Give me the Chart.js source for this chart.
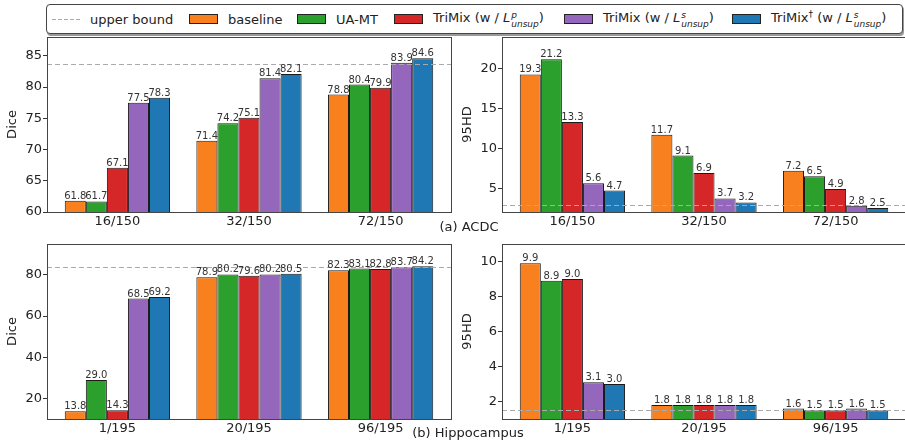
<!DOCTYPE html>
<html>
<head>
<meta charset="utf-8">
<script src="https://cdn.jsdelivr.net/npm/chart.js@4.4.0/dist/chart.umd.min.js"></script>
<style>
html, body { margin:0; padding:0; background:#fff; }
body { width:905px; height:441px; overflow:hidden; position:relative; font-family:"DejaVu Sans", sans-serif; color:#222; }
canvas { position:absolute; }
#legend { position:absolute; left:46px; top:4px; width:857px; height:30px; border:1px solid #444; border-radius:4px; box-shadow:1px 2px 0 #999; box-sizing:border-box; background:#fff; }
.item { position:absolute; top:0; height:28px; display:flex; align-items:center; font-size:13px; white-space:nowrap; }
.patch { width:29px; height:10px; border:1px solid #222; box-sizing:border-box; margin-right:10px; }
.dash { width:28px; height:1px; margin-right:10px; background:repeating-linear-gradient(90deg, #aaa 0 4px, transparent 4px 6px); }
.cap { position:absolute; font-size:13px; transform:translateX(-50%); white-space:nowrap; }
.ss { display:inline-flex; flex-direction:column; vertical-align:4px; font-size:9px; line-height:9px; font-style:italic; margin-left:1px; }
</style>
</head>
<body>
<div id="legend"></div>
<canvas id="c1"></canvas>
<canvas id="c2"></canvas>
<canvas id="c3"></canvas>
<canvas id="c4"></canvas>
<div class="cap" style="left:469px; top:219px;">(a) ACDC</div>
<div class="cap" style="left:468px; top:425px;">(b) Hippocampus</div>
<script>
// methods (legend order) and bar colours
const methods = ['baseline', 'UA-MT',
    'TriMix (w / <i>L</i><span class="ss"><span>p</span><span>unsup</span></span>)',
    'TriMix (w / <i>L</i><span class="ss"><span>s</span><span>unsup</span></span>)',
    'TriMix<sup style="font-size:9px">†</sup> (w / <i>L</i><span class="ss"><span>s</span><span>unsup</span></span>)'];
const colours = ['#f8801f', '#2ca02c', '#d62728', '#9467bd', '#1f77b4'];

const acdcCats = ['16/150', '32/150', '72/150'];
const hippoCats = ['1/195', '20/195', '96/195'];

// one row per method, one value per labelled split
const acdcDice = [
    [61.8, 71.4, 78.8],
    [61.7, 74.2, 80.4],
    [67.1, 75.1, 79.9],
    [77.5, 81.4, 83.9],
    [78.3, 82.1, 84.6]
];
const acdcHD = [
    [19.3, 11.7, 7.2],
    [21.2, 9.1, 6.5],
    [13.3, 6.9, 4.9],
    [5.6, 3.7, 2.8],
    [4.7, 3.2, 2.5]
];
const hippoDice = [
    [13.8, 78.9, 82.3],
    [29.0, 80.2, 83.1],
    [14.3, 79.6, 82.8],
    [68.5, 80.2, 83.7],
    [69.2, 80.5, 84.2]
];
const hippoHD = [
    [9.9, 1.8, 1.6],
    [8.9, 1.8, 1.5],
    [9.0, 1.8, 1.5],
    [3.1, 1.8, 1.6],
    [3.0, 1.8, 1.5]
];

// fully supervised upper bounds (dashed line)
const upperDice = [83.7, 83.7];   // ACDC, Hippocampus
const upperHD = [2.85, 1.5];

const acdcDiceTicks = [60, 65, 70, 75, 80, 85];
const acdcHDTicks = [5, 10, 15, 20];
const hippoDiceTicks = [20, 40, 60, 80];
const hippoHDTicks = [2, 4, 6, 8, 10];

// legend (html so the sub/superscripts stay text)
const legendX = [5, 142, 250, 347, 517, 685];
let lg = '<div class="item" style="left:' + legendX[0] + 'px"><div class="dash"></div>upper bound</div>';
methods.forEach((m, i) => {
    lg += '<div class="item" style="left:' + legendX[i + 1] + 'px"><div class="patch" style="background:' + colours[i] + '"></div><span>' + m + '</span></div>';
});
document.getElementById('legend').innerHTML = lg;

Chart.defaults.font.family = '"DejaVu Sans", sans-serif';
Chart.defaults.font.size = 13;
Chart.defaults.color = '#222';

const decor = {
    id: 'decor',
    afterDatasetsDraw(chart, args, opts) {
        const ctx = chart.ctx;
        const a = chart.chartArea;
        const y = Math.round(chart.scales.y.getPixelForValue(opts.upper)) + 0.5;
        ctx.save();
        // upper bound
        ctx.strokeStyle = '#aaa';
        ctx.lineWidth = 1.2;
        ctx.setLineDash([5, 3]);
        ctx.beginPath();
        ctx.moveTo(a.left, y);
        ctx.lineTo(a.right, y);
        ctx.stroke();
        ctx.setLineDash([]);
        // value labels
        ctx.font = '10px "DejaVu Sans"';
        ctx.fillStyle = '#333';
        ctx.textAlign = 'center';
        ctx.textBaseline = 'alphabetic';
        chart.data.datasets.forEach((ds, i) => {
            chart.getDatasetMeta(i).data.forEach((bar, j) => {
                ctx.fillText(ds.data[j].y.toFixed(1), bar.x, bar.y - 2);
            });
        });
        // frame
        ctx.strokeStyle = '#444';
        ctx.lineWidth = 1;
        ctx.strokeRect(Math.round(a.left) + 0.5, Math.round(a.top) + 0.5,
            Math.round(a.right - a.left), Math.round(a.bottom - a.top));
        ctx.restore();
    }
};

function makePanel(id, left, top, w, h, xh, cats, values, yMin, yMax, yTicks, title, upper) {
    const cv = document.getElementById(id);
    cv.width = w; cv.height = h;
    cv.style.left = left + 'px'; cv.style.top = top + 'px';
    cv.style.width = w + 'px'; cv.style.height = h + 'px';
    return new Chart(cv, {
        type: 'bar',
        data: {
            datasets: values.map((row, i) => ({
                label: methods[i],
                data: row.map((v, j) => ({x: j, y: v})),
                backgroundColor: colours[i],
                borderColor: '#1a1a1a',
                borderWidth: 1,
                borderSkipped: false,
                categoryPercentage: 0.8,
                barPercentage: 1
            }))
        },
        options: {
            responsive: false,
            animation: false,
            layout: {padding: {top: 9, right: 9, left: 0, bottom: 0}},
            plugins: {legend: {display: false}, tooltip: {enabled: false}, decor: {upper: upper}},
            scales: {
                x: {
                    type: 'linear',
                    offset: false,
                    min: -0.535, max: 2.535,
                    afterBuildTicks: s => { s.ticks = cats.map((c, i) => ({value: i})); },
                    afterFit: s => { s.height = xh; },
                    grid: {display: false, drawTicks: false},
                    border: {display: false},
                    ticks: {callback: v => cats[v], padding: 2, maxRotation: 0, autoSkip: false, color: '#222'}
                },
                y: {
                    min: yMin, max: yMax,
                    afterBuildTicks: s => { s.ticks = yTicks.map(v => ({value: v})); },
                    afterFit: s => { s.width = 47; },
                    grid: {display: true, drawOnChartArea: false, drawTicks: true, tickLength: 4, color: '#333'},
                    border: {display: false},
                    ticks: {padding: 1, color: '#222'},
                    title: {display: true, text: title, padding: {top: 5, bottom: 0}, color: '#222', font: {size: 13}}
                }
            }
        },
        plugins: [decor]
    });
}

makePanel('c1', 0, 28, 460, 202, 18, acdcCats, acdcDice, 60, 88, acdcDiceTicks, 'Dice', upperDice[0]);
makePanel('c2', 455, 28, 460, 202, 18, acdcCats, acdcHD, 2, 24, acdcHDTicks, '95HD', upperHD[0]);
makePanel('c3', 0, 235, 460, 206, 22, hippoCats, hippoDice, 10, 95, hippoDiceTicks, 'Dice', upperDice[1]);
makePanel('c4', 455, 235, 460, 206, 22, hippoCats, hippoHD, 1, 11, hippoHDTicks, '95HD', upperHD[1]);
</script>
</body>
</html>
